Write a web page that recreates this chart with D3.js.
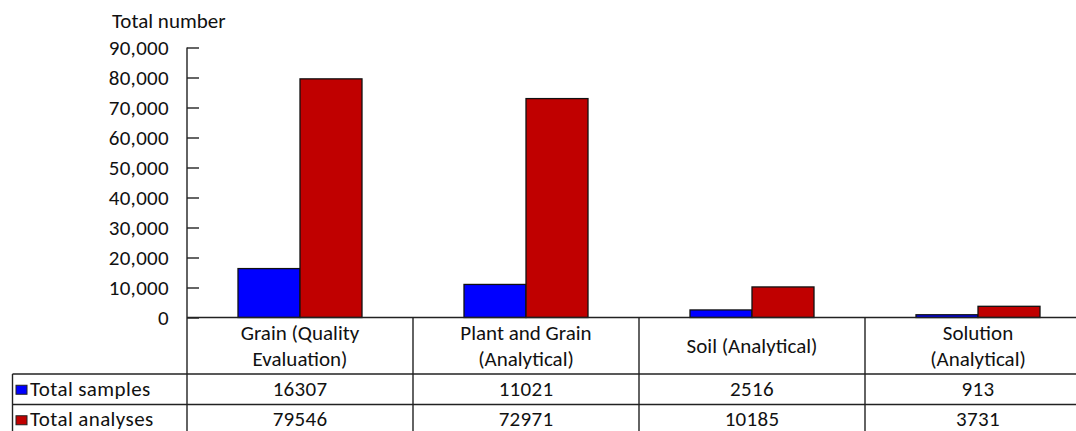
<!DOCTYPE html>
<html>
<head>
<meta charset="utf-8">
<script src="https://cdn.jsdelivr.net/npm/d3@7/dist/d3.min.js"></script>
<style>
  html, body { margin: 0; padding: 0; background: #fff; }
  svg { display: block; }
  text { font-family: Carlito, Calibri, Lato, "Open Sans", sans-serif; fill: #111; }
  .num { letter-spacing: 0.3px; }
</style>
</head>
<body>
<svg id="chart" width="1076" height="431"></svg>
<script>
// Categories (two-line labels split on "|")
const categories = [
  "Grain (Quality|Evaluation)",
  "Plant and Grain|(Analytical)",
  "Soil (Analytical)",
  "Solution|(Analytical)"
];
const seriesNames = ["Total samples", "Total analyses"];
const totalSamples = [16307, 11021, 2516, 913];
const totalAnalyses = [79546, 72971, 10185, 3731];
const seriesColors = ["#0000FF", "#C00000"];
const yTicks = [0, 10000, 20000, 30000, 40000, 50000, 60000, 70000, 80000, 90000];
const yTitle = "Total number";

const seriesValues = [totalSamples, totalAnalyses];

const svg = d3.select("#chart");
const fontSize = 21;

// Layout
const axisX = 187;
const colW = 226;
const yTop = 47.5, yBase = 317.5;
const tableLeft = 12.5;
const rowLines = [374, 404.5, 435];

const x = d3.scaleBand()
  .domain(categories)
  .range([axisX, axisX + colW * categories.length])
  .padding(0);

const xInner = d3.scaleBand()
  .domain(seriesNames)
  .range([51, colW - 51])
  .padding(0);

const y = d3.scaleLinear().domain([0, 90000]).range([yBase, yTop]);

// Y axis with ticks pointing into the plot
const yAxis = d3.axisRight(y)
  .tickValues(yTicks)
  .tickSize(12)
  .tickFormat(d3.format(","));

const gAxis = svg.append("g")
  .attr("transform", `translate(${axisX},0)`)
  .call(yAxis);
gAxis.select(".domain").remove();
gAxis.selectAll(".tick line").attr("stroke", "#111").attr("stroke-width", 1.3);
gAxis.selectAll(".tick text")
  .attr("class", "num")
  .attr("x", -18)
  .attr("dy", "0.35em")
  .attr("text-anchor", "end")
  .style("font-size", fontSize + "px")
  .style("font-family", "Carlito, Calibri, Lato, sans-serif")
  .attr("fill", "#111");

// Axis title
svg.append("text")
  .attr("x", 112)
  .attr("y", 28)
  .style("font-size", fontSize + "px")
  .text(yTitle);

// Bars
const groups = svg.append("g").selectAll("g")
  .data(categories)
  .join("g")
  .attr("transform", d => `translate(${x(d)},0)`);

groups.selectAll("rect")
  .data((d, i) => seriesNames.map((s, j) => ({ s, j, v: seriesValues[j][i] })))
  .join("rect")
  .attr("x", d => xInner(d.s))
  .attr("width", xInner.bandwidth())
  .attr("y", d => y(d.v))
  .attr("height", d => yBase - y(d.v))
  .attr("fill", d => seriesColors[d.j])
  .attr("stroke", "#111")
  .attr("stroke-width", 1.3);

// Data table lines
const lines = svg.append("g").attr("stroke", "#222").attr("stroke-width", 1.4).attr("fill", "none");
// baseline / top of table
lines.append("line").attr("x1", axisX).attr("x2", 1076).attr("y1", yBase).attr("y2", yBase);
// row separators
rowLines.forEach(ry => {
  lines.append("line").attr("x1", tableLeft).attr("x2", 1076).attr("y1", ry).attr("y2", ry);
});
// y axis line, continuing through the table
lines.append("line").attr("x1", axisX).attr("x2", axisX).attr("y1", yTop).attr("y2", 440);
// table left border
lines.append("line").attr("x1", tableLeft).attr("x2", tableLeft).attr("y1", rowLines[0]).attr("y2", 440);
// column separators
categories.forEach(c => {
  const cx = x(c) + colW;
  lines.append("line").attr("x1", cx).attr("x2", cx).attr("y1", yBase).attr("y2", 440);
});

// Category labels
const catLabels = svg.append("g").selectAll("text")
  .data(categories)
  .join("text")
  .attr("text-anchor", "middle")
  .style("font-size", fontSize + "px")
  .attr("x", d => x(d) + colW / 2);

catLabels.each(function(d) {
  const parts = d.split("|");
  const t = d3.select(this);
  const mid = (yBase + rowLines[0]) / 2;
  const lh = 26;
  const first = mid + 7 - (parts.length - 1) * lh / 2;
  parts.forEach((p, k) => {
    t.append("tspan").attr("x", x(d) + colW / 2).attr("y", first + k * lh).text(p);
  });
});

// Table rows: legend key + values
seriesNames.forEach((s, j) => {
  const top = rowLines[j], bot = rowLines[j + 1];
  const cy = (top + bot) / 2;
  const base = Math.min(cy + 7, 426);
  svg.append("rect")
    .attr("x", 16).attr("y", cy - 4)
    .attr("width", 11).attr("height", 9)
    .attr("fill", seriesColors[j])
    .attr("stroke", "#222").attr("stroke-width", 1);
  svg.append("text")
    .attr("x", 30).attr("y", base)
    .style("font-size", fontSize + "px")
    .style("letter-spacing", "0.4px")
    .text(s);
  svg.append("g").selectAll("text")
    .data(categories)
    .join("text")
    .attr("class", "num")
    .attr("text-anchor", "middle")
    .attr("x", d => x(d) + colW / 2)
    .attr("y", base)
    .style("font-size", fontSize + "px")
    .text((d, i) => seriesValues[j][i]);
});
</script>
</body>
</html>
